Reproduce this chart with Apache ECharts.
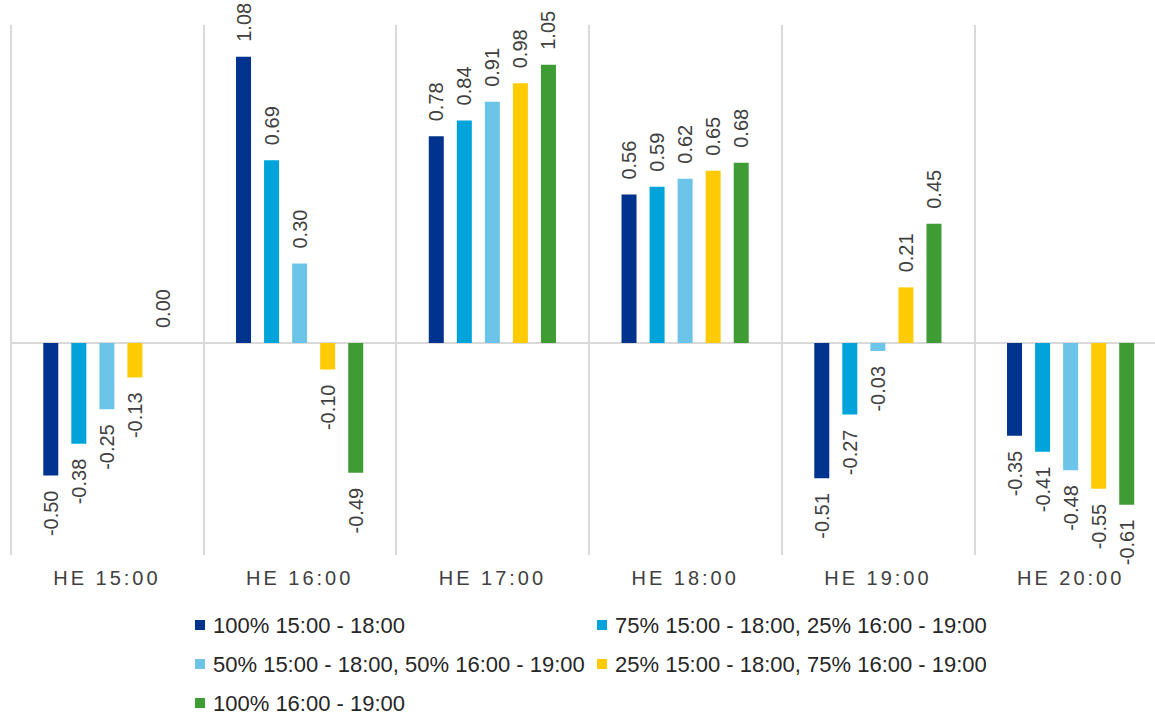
<!DOCTYPE html>
<html>
<head>
<meta charset="utf-8">
<script src="https://cdn.jsdelivr.net/npm/echarts@6/dist/echarts.min.js"></script>
<style>
html,body{margin:0;padding:0;background:#fff;}
#chart{width:1155px;height:716px;}
</style>
</head>
<body>
<div id="chart"></div>
<script>
const categories = ['HE 15:00', 'HE 16:00', 'HE 17:00', 'HE 18:00', 'HE 19:00', 'HE 20:00'];
const seriesNames = [
  '100% 15:00 - 18:00',
  '75% 15:00 - 18:00, 25% 16:00 - 19:00',
  '50% 15:00 - 18:00, 50% 16:00 - 19:00',
  '25% 15:00 - 18:00, 75% 16:00 - 19:00',
  '100% 16:00 - 19:00'
];
const s100_15_18 = [-0.50, 1.08, 0.78, 0.56, -0.51, -0.35];
const s75_25 = [-0.38, 0.69, 0.84, 0.59, -0.27, -0.41];
const s50_50 = [-0.25, 0.30, 0.91, 0.62, -0.03, -0.48];
const s25_75 = [-0.13, -0.10, 0.98, 0.65, 0.21, -0.55];
const s100_16_19 = [0.00, -0.49, 1.05, 0.68, 0.45, -0.61];
const seriesValues = [s100_15_18, s75_25, s50_50, s25_75, s100_16_19];
const colors = ['#00338D', '#00A3DA', '#6CC5E9', '#FFCB05', '#3F9C35'];

const FONT = '"Liberation Sans", Arial, sans-serif';
const chart = echarts.init(document.getElementById('chart'), null, {renderer: 'svg'});

function makeData(vals) {
  return vals.map(v => ({
    value: v,
    label: v >= 0
      ? {position: 'top', align: 'left', verticalAlign: 'middle'}
      : {position: 'bottom', align: 'right', verticalAlign: 'middle'}
  }));
}

const series = seriesValues.map((vals, i) => ({
  name: seriesNames[i],
  type: 'bar',
  barWidth: 15,
  barGap: '87%',
  itemStyle: {color: colors[i]},
  z: 3,
  label: {
    show: true,
    rotate: 90,
    distance: 15,
    fontSize: 20,
    fontFamily: FONT,
    color: '#404040',
    formatter: p => p.value.toFixed(2)
  },
  data: makeData(vals)
}));
series[0].markLine = {
  silent: true,
  symbol: 'none',
  z: 1,
  label: {show: false},
  lineStyle: {color: '#d9d9d9', width: 2, type: 'solid'},
  data: [{yAxis: 0}]
};

const legendText = {fontSize: 22, fontFamily: FONT, color: '#262626', lineHeight: 22, padding: [0, 0, 0, 3]};

chart.setOption({
  animation: false,
  backgroundColor: '#fff',
  grid: {left: 10.5, width: 1156.5, top: 25, height: 530, containLabel: false, outerBoundsMode: 'none'},
  xAxis: {
    type: 'category',
    data: categories,
    axisLine: {show: false},
    axisTick: {show: false},
    axisLabel: {fontSize: 20, fontFamily: FONT, color: '#404040', margin: 13},
    splitLine: {show: true, interval: 0, lineStyle: {color: '#d9d9d9', width: 2}}
  },
  yAxis: {
    type: 'value',
    min: -0.8,
    max: 1.2,
    interval: 0.2,
    show: false,
    splitLine: {show: false}
  },
  legend: [
    {
      orient: 'vertical', left: 195, top: 614, padding: 0,
      itemWidth: 10, itemHeight: 10, itemGap: 17,
      icon: 'rect', textStyle: legendText,
      data: [seriesNames[0], seriesNames[2], seriesNames[4]]
    },
    {
      orient: 'vertical', left: 597, top: 614, padding: 0,
      itemWidth: 10, itemHeight: 10, itemGap: 17,
      icon: 'rect', textStyle: legendText,
      data: [seriesNames[1], seriesNames[3]]
    }
  ],
  series: series
});

function spaceLabels() {
  document.querySelectorAll('#chart svg text').forEach(t => {
    if (categories.indexOf(t.textContent) >= 0) {
      t.style.letterSpacing = '3px';
    }
  });
}
chart.on('finished', spaceLabels);
setTimeout(spaceLabels, 50);
setTimeout(spaceLabels, 300);
</script>
</body>
</html>
